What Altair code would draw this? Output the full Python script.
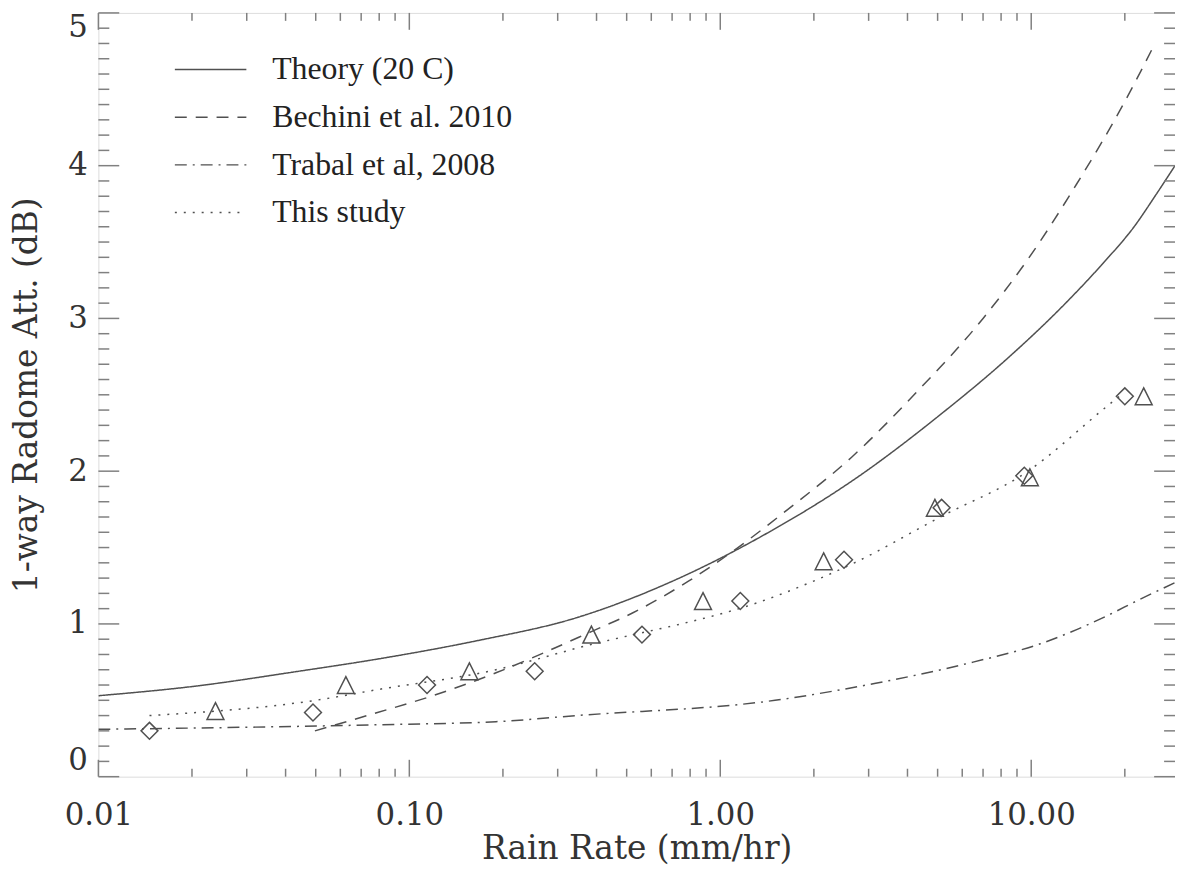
import altair as alt
import pandas as pd

# ---------------- data ----------------
series_names = ["Theory (20 C)", "Bechini et al. 2010", "Trabal et al, 2008", "This study"]

theory_x = [0.01, 0.02, 0.044, 0.079, 0.165, 0.344, 0.72, 1.32, 2.76, 5.1, 8.3, 12.9, 17.0, 21.6, 25.0, 29.0]
theory_y = [0.53, 0.59, 0.69, 0.77, 0.89, 1.04, 1.29, 1.56, 1.96, 2.37, 2.73, 3.10, 3.36, 3.61, 3.80, 4.00]

bechini_x = [0.0497, 0.079, 0.119, 0.19, 0.27, 0.385, 0.52, 0.79, 1.14, 1.65, 2.64, 4.2, 7.0, 9.7, 14.0, 20.0, 25.0]
bechini_y = [0.30, 0.42, 0.53, 0.68, 0.81, 0.95, 1.07, 1.28, 1.50, 1.75, 2.09, 2.50, 3.00, 3.38, 3.88, 4.42, 4.80]

trabal_x = [0.01, 0.079, 0.19, 0.344, 1.5, 3.13, 6.5, 10.7, 17.4, 22.3, 29.0]
trabal_y = [0.31, 0.34, 0.36, 0.40, 0.50, 0.61, 0.75, 0.87, 1.05, 1.16, 1.27]

study_x = [0.0146, 0.05, 0.079, 0.19, 0.344, 1.5, 2.7, 5.1, 9.6, 17.9, 19.5]
study_y = [0.40, 0.50, 0.57, 0.70, 0.84, 1.18, 1.40, 1.70, 1.99, 2.44, 2.50]

tri_x = [0.0238, 0.0625, 0.156, 0.385, 0.88, 2.15, 4.9, 9.9, 23.0]
tri_y = [0.43, 0.60, 0.69, 0.93, 1.15, 1.41, 1.76, 1.96, 2.49]

dia_x = [0.0146, 0.049, 0.114, 0.253, 0.56, 1.16, 2.5, 5.15, 9.5, 20.0]
dia_y = [0.30, 0.42, 0.60, 0.69, 0.93, 1.15, 1.42, 1.76, 1.97, 2.49]

x_major = [0.01, 0.1, 1, 10]
y_major = [0, 1, 2, 3, 4, 5]

# ---------------- tables ----------------
rows = []
for name, xs, ys in zip(series_names,
                        [theory_x, bechini_x, trabal_x, study_x],
                        [theory_y, bechini_y, trabal_y, study_y]):
    rows += [{"series": name, "x": a, "y": b} for a, b in zip(xs, ys)]
lines_df = pd.DataFrame(rows)

pts_df = pd.DataFrame(
    [{"kind": "tri", "x": a, "y": b} for a, b in zip(tri_x, tri_y)]
    + [{"kind": "dia", "x": a, "y": b} for a, b in zip(dia_x, dia_y)]
)

X_MAX = 29.0
x_minor = [m * 10 ** e for e in range(-2, 2) for m in range(2, 10) if m * 10 ** e <= X_MAX]
y_minor = [round(i * 0.1, 1) for i in range(1, 50) if i % 10]

# ---------------- styles ----------------
W, H = 1084, 769
LINE = "#505050"
TICK = "#808080"
TXT = "#333333"
SERIF = "DejaVu Serif"

xscale = alt.Scale(type="log", domain=[0.01, X_MAX], nice=False)
yscale = alt.Scale(domain=[0, 5], nice=False, zero=False)

xaxis = alt.Axis(values=x_major, format=".2f", ticks=False, domain=False, grid=False,
                 labelFont=SERIF, labelFontSize=31, labelColor=TXT, labelPadding=24,
                 labelFlush=False, title="Rain Rate (mm/hr)", titleFont=SERIF,
                 titleFontSize=33, titleFontWeight="normal", titleColor=TXT,
                 titleY=82, titleBaseline="alphabetic")
yaxis = alt.Axis(values=y_major, format="d", ticks=False, domain=False, grid=False,
                 labelFont=SERIF, labelFontSize=31, labelColor=TXT, labelPadding=11,
                 labelFlush=True, title="1-way Radome Att. (dB)", titleFont=SERIF,
                 titleFontSize=33, titleFontWeight="normal", titleColor=TXT,
                 titleX=-62, titleBaseline="alphabetic")

X = alt.X("x:Q", scale=xscale, axis=xaxis)
Y = alt.Y("y:Q", scale=yscale, axis=yaxis)

TRI_PATH = "M0,-1L1,1L-1,1Z"

lines = alt.Chart(lines_df).mark_line(color=LINE, strokeWidth=1.5, interpolate="monotone", clip=True).encode(
    x=X, y=Y,
    strokeDash=alt.StrokeDash(
        "series:N",
        scale=alt.Scale(domain=series_names, range=[[1, 0], [12, 9], [12, 6, 2, 6], [2, 7]]),
        legend=alt.Legend(title=None, orient="none", legendX=76, legendY=41,
                          symbolType="stroke", symbolSize=5184, symbolStrokeWidth=1.5,
                          symbolStrokeColor=LINE, labelFont="Liberation Serif",
                          labelFontSize=32, labelColor="#222222", labelOffset=25,
                          labelLimit=500, rowPadding=16, clipHeight=32, padding=0),
    ),
    detail="series:N",
)

points = alt.Chart(pts_df).mark_point(filled=False, size=289, strokeWidth=1.5, color=LINE, opacity=1).encode(
    x=X, y=Y,
    shape=alt.Shape("kind:N", scale=alt.Scale(domain=["tri", "dia"], range=[TRI_PATH, "diamond"]), legend=None),
)

def yticks(vals, length, right=False):
    x0 = W if right else 0
    x1 = W - length if right else length
    return alt.Chart(pd.DataFrame({"y": vals})).mark_rule(color=TICK, strokeWidth=1.5).encode(
        y=Y, x=alt.value(x0), x2=alt.value(x1))

def xticks(vals, length, top=False):
    y0 = 0 if top else H
    y1 = length if top else H - length
    return alt.Chart(pd.DataFrame({"x": vals})).mark_rule(color=TICK, strokeWidth=1.5).encode(
        x=X, y=alt.value(y0), y2=alt.value(y1))

ticks = [
    yticks(y_major, 21), yticks(y_minor, 11),
    yticks(y_major, 21, right=True), yticks(y_minor, 11, right=True),
    xticks(x_major, 17), xticks(x_minor, 8),
    xticks(x_major, 17, top=True), xticks(x_minor, 8, top=True),
]

chart = alt.layer(lines, points, *ticks).properties(
    width=W, height=H,
    autosize=alt.AutoSizeParams(type="none"),
    padding={"left": 91, "top": 2, "right": 0, "bottom": 90},
).configure_view(stroke="#8a8a8a", strokeWidth=1.5).configure(background="white")

chart.save("out.html", embed_options={"renderer": "svg", "actions": False})
